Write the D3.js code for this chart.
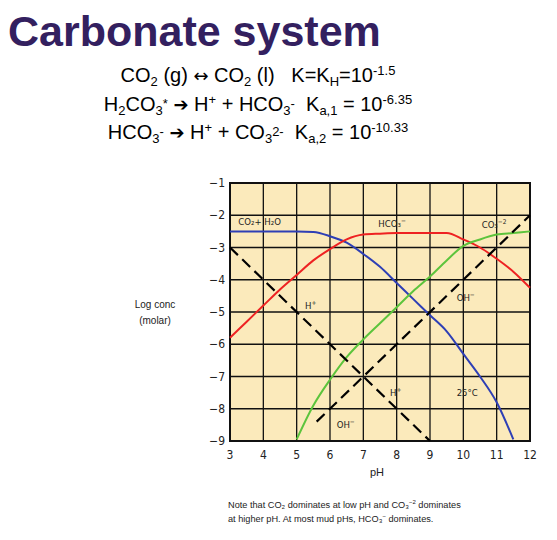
<!DOCTYPE html>
<html><head><meta charset="utf-8">
<script src="https://cdn.jsdelivr.net/npm/d3@7"></script>
<style>body{margin:0;background:#fff;font-family:Arial,"Liberation Sans",sans-serif} text{white-space:pre}</style>
</head><body>
<svg id="chart" width="557" height="540"></svg>
<script>
var pH = [3,3.5,4,4.5,5,5.5,6,6.5,7,7.5,8,8.5,9,9.5,10,10.5,11,11.5,12];
var co2 = [-2.5,-2.5,-2.5,-2.5,-2.5,-2.52,-2.65,-2.85,-3.2,-3.6,-4.1,-4.6,-5.1,-5.6,-6.3,-7.0,-7.8,-8.95,null];
var hco3 = [-5.8,-5.3,-4.8,-4.3,-3.85,-3.4,-3.05,-2.75,-2.6,-2.57,-2.55,-2.55,-2.55,-2.55,-2.75,-3.0,-3.35,-3.75,-4.25];
var co3 = [null,null,null,null,-8.95,-7.9,-7.1,-6.4,-5.85,-5.35,-4.85,-4.35,-3.9,-3.4,-2.95,-2.75,-2.6,-2.55,-2.5];
var hLine = [[3,-3],[9,-9]];
var ohLine = [[5.6,-8.4],[12,-2]];
var xTicks = [3,4,5,6,7,8,9,10,11,12];
var yTicks = [-1,-2,-3,-4,-5,-6,-7,-8,-9];

var svg = d3.select("#chart");
var x = d3.scaleLinear().domain([3,12]).range([230,530]);
var y = d3.scaleLinear().domain([-1,-9]).range([183,441]);

svg.append("text").attr("x",8).attr("y",46).attr("font-size",43).attr("font-weight","bold")
  .attr("fill","#33205f").text("Carbonate system");

var eq = svg.append("g").attr("font-size",20).attr("text-anchor","middle").attr("fill","#000");
function line(yy, parts){
  var t = eq.append("text").attr("x",258).attr("y",yy);
  parts.forEach(function(p){
    var s = t.append("tspan").text(p[0]);
    if (p[0]==="\u2794" || p[0]==="\u2194") s.attr("font-family","DejaVu Sans").attr("font-size",18);
    if (p[1]==="sub") s.attr("font-size",13).attr("dy",4);
    if (p[1]==="sup") s.attr("font-size",13).attr("dy",-7);
    if (p[1]==="back") s.attr("dy",p[2]);
  });
}
line(82,[["CO"],["2","sub"],[" (g) ","back",-4],["\u2194"],[" CO"],["2","sub"],[" (l)   K=K","back",-4],["H","sub"],["=10","back",-4],["-1.5","sup"]]);
line(111,[["H"],["2","sub"],["CO","back",-4],["3","sub"],["*","sup",0],[" ","back",3],["\u2794"],[" H"],["+","sup"],[" + HCO","back",7],["3","sub"],["-","sup"],["  K","back",3],["a,1","sub"],[" = 10","back",-4],["-6.35","sup"]]);
line(139,[["HCO"],["3","sub"],["-","sup"],[" ","back",3],["\u2794"],[" H"],["+","sup"],[" + CO","back",7],["3","sub"],["2-","sup"],["  K","back",3],["a,2","sub"],[" = 10","back",-4],["-10.33","sup"]]);

svg.append("rect").attr("x",x(3)).attr("y",y(-1)).attr("width",x(12)-x(3)).attr("height",y(-9)-y(-1)).attr("fill","#fbeabb");
var g = svg.append("g");
g.selectAll(".vx").data(xTicks).enter().append("line").attr("x1",d=>x(d)).attr("x2",d=>x(d))
  .attr("y1",y(-1)).attr("y2",y(-9)).attr("stroke","#111").attr("stroke-width",1.3);
g.selectAll(".hy").data(yTicks).enter().append("line").attr("y1",d=>y(d)).attr("y2",d=>y(d))
  .attr("x1",x(3)).attr("x2",x(12)).attr("stroke","#111").attr("stroke-width",1.3);
svg.append("rect").attr("x",x(3)).attr("y",y(-1)).attr("width",x(12)-x(3)).attr("height",y(-9)-y(-1))
  .attr("fill","none").attr("stroke","#111").attr("stroke-width",2);

var tick = svg.append("g").attr("font-family","'DejaVu Sans Condensed','Liberation Sans Narrow',sans-serif").attr("font-size",12).attr("fill","#222");
tick.selectAll(".xt").data(xTicks).enter().append("text").attr("x",d=>x(d)).attr("y",y(-9)+18).attr("text-anchor","middle").text(d=>d);
tick.selectAll(".yt").data(yTicks).enter().append("text").attr("x",x(3)-5).attr("y",d=>y(d)+4).attr("text-anchor","end").text(d=>"\u2212"+(-d));

var ln = d3.line().defined(d=>d[1]!==null).x(d=>x(d[0])).y(d=>y(d[1])).curve(d3.curveMonotoneX);
function series(vals,col){
  svg.append("path").attr("d",ln(pH.map((p,i)=>[p,vals[i]]))).attr("fill","none").attr("stroke",col).attr("stroke-width",2);
}
series(co2,"#2e3fb5"); series(hco3,"#ee2222"); series(co3,"#5cc43c");
[hLine,ohLine].forEach(function(l){
  svg.append("path").attr("d",d3.line().x(d=>x(d[0])).y(d=>y(d[1]))(l)).attr("fill","none")
    .attr("stroke","#000").attr("stroke-width",2.2).attr("stroke-dasharray","11,6");
});

var lab = svg.append("g").attr("font-family","'DejaVu Sans Condensed',sans-serif").attr("font-size",9.5).attr("fill","#222");
function L(px,py,t,sup){var e=lab.append("text").attr("x",x(px)).attr("y",y(py)).text(t); if(sup) e.append("tspan").attr("font-size",6.5).attr("dy",-4).text(sup);}
L(3.25,-2.3,"CO\u2082+ H\u2082O");
L(7.45,-2.35,"HCO\u2083","\u2212");
L(10.55,-2.4,"CO\u2083","\u22122");
L(5.25,-4.9,"H","+");
L(7.8,-7.6,"H","+");
L(9.8,-4.65,"OH","\u2212");
L(6.2,-8.6,"OH","\u2212");
L(9.8,-7.6,"25\u00b0C");

svg.append("text").attr("x",155).attr("y",308).attr("text-anchor","middle").attr("font-size",10).attr("fill","#222").text("Log conc");
svg.append("text").attr("x",155).attr("y",324).attr("text-anchor","middle").attr("font-size",10).attr("fill","#222").text("(molar)");
svg.append("text").attr("x",377).attr("y",476).attr("text-anchor","middle").attr("font-size",11).attr("fill","#222").text("pH");
var n = svg.append("g").attr("font-size",9.2).attr("fill","#222");
var t1 = n.append("text").attr("x",228).attr("y",508).text("Note that CO\u2082 dominates at low pH and CO\u2083");
t1.append("tspan").attr("font-size",6).attr("dy",-4).text("\u22122");
t1.append("tspan").attr("dy",4).text(" dominates");
var t2 = n.append("text").attr("x",228).attr("y",522).text("at higher pH. At most mud pHs, HCO\u2083");
t2.append("tspan").attr("font-size",6).attr("dy",-4).text("\u2212");
t2.append("tspan").attr("dy",4).text(" dominates.");
</script>
</body></html>
